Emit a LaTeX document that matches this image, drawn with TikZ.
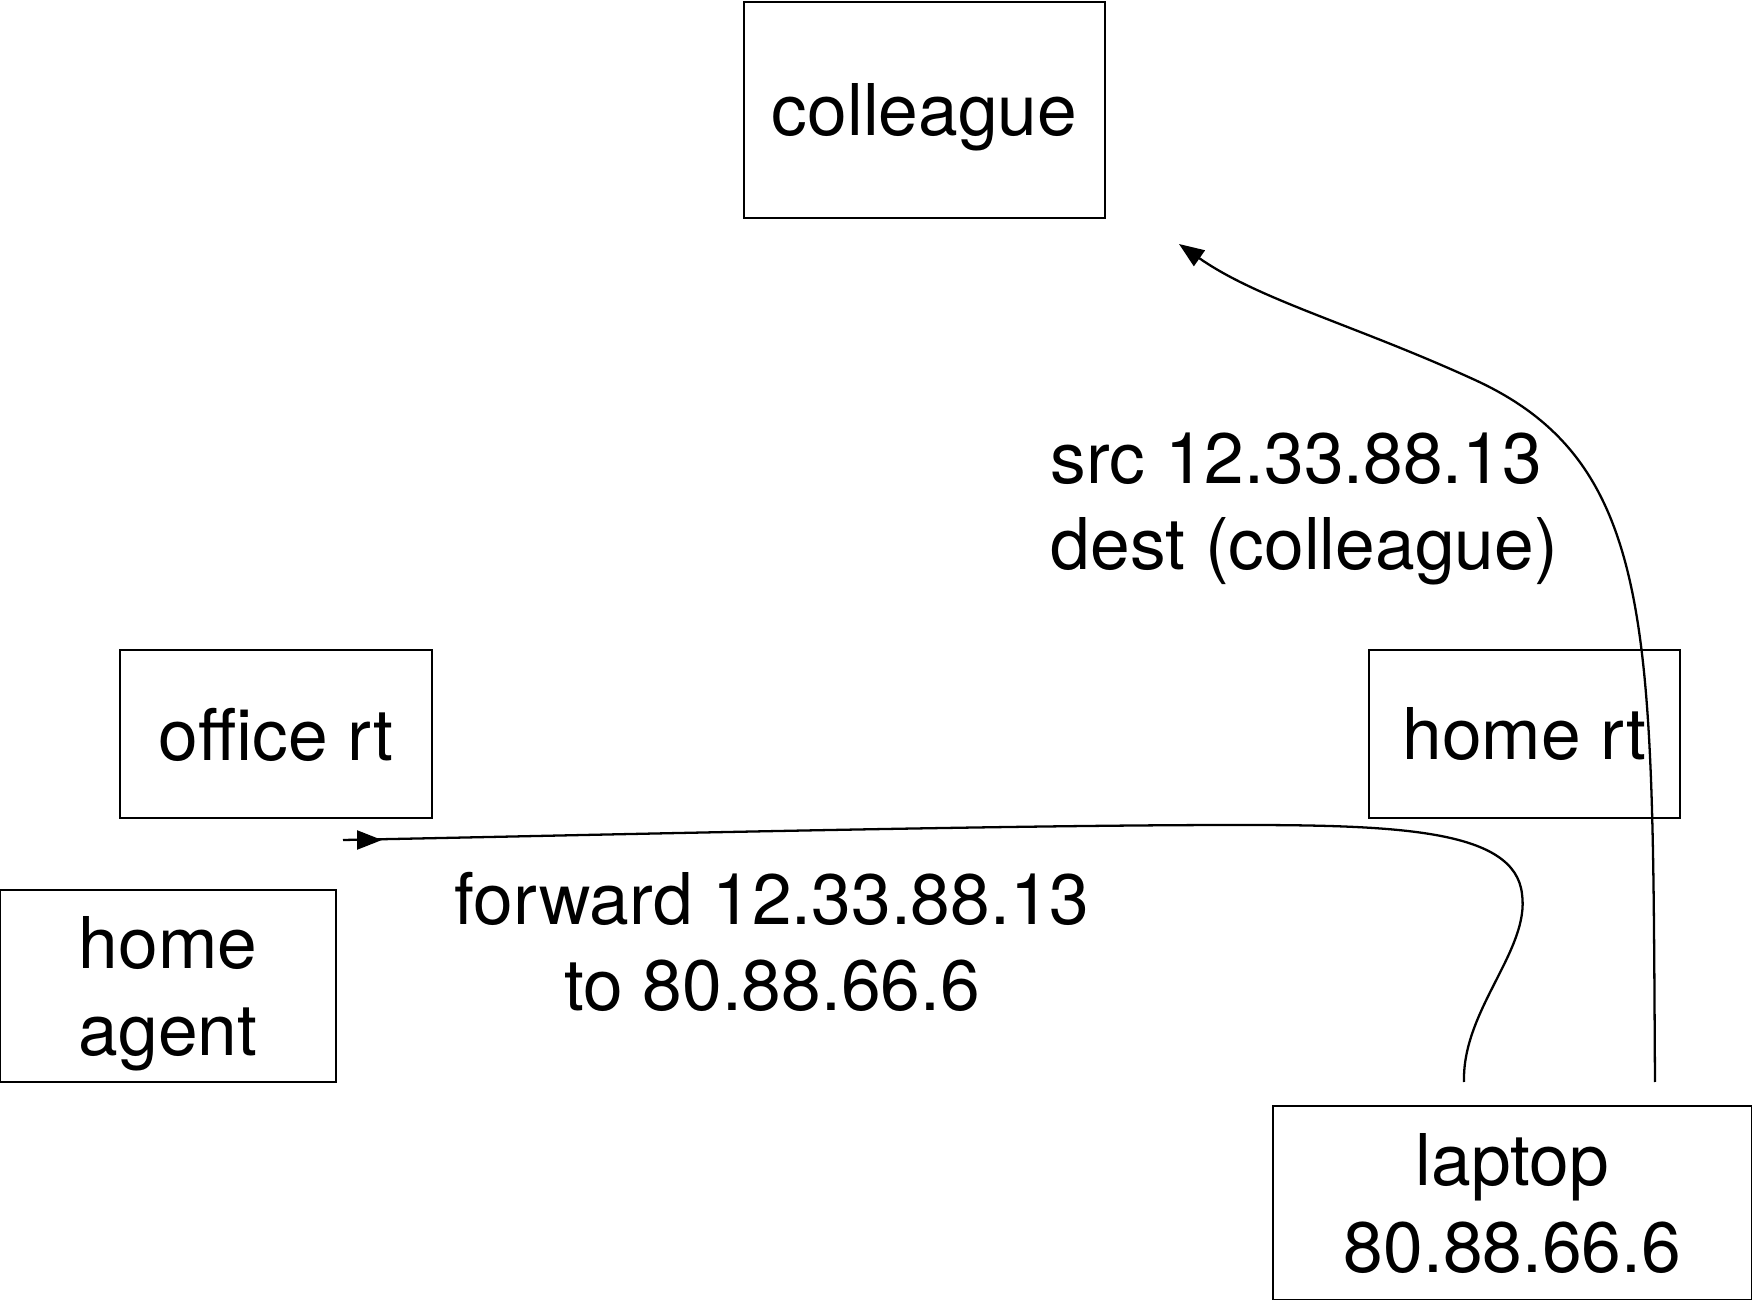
\documentclass[tikz,border=0pt]{standalone}
\usepackage{fontspec}
\setmainfont{TeX Gyre Heros}
\usetikzlibrary{arrows.meta}
\tikzset{
  box/.style={draw=black, line width=0.8pt, inner sep=0pt, align=center, text depth=0pt},
  lbl/.style={inner sep=0pt},
  wire/.style={draw=black, line width=0.65pt},
  tip/.style={-{Triangle[length=2.5mm,width=1.9mm]}}
}
\begin{document}
\begin{tikzpicture}[font=\fontsize{20.3}{24.5}\selectfont]
\useasboundingbox (0,0) rectangle (17.52,-13.0);

\node[box, minimum width=3.61cm, minimum height=2.16cm] (colleague) at (9.245,-1.10) {colleague};
\node[box, minimum width=3.12cm, minimum height=1.68cm] (office) at (2.76,-7.34) {office rt};
\node[box, minimum width=3.11cm, minimum height=1.68cm] (homert) at (15.245,-7.34) {home rt};
\node[box, minimum width=3.36cm, minimum height=1.92cm] (agent) at (1.68,-9.86) {home\\agent};
\node[box, minimum width=4.79cm, minimum height=1.94cm] (laptop) at (15.125,-12.03) {laptop\\80.88.66.6};

\coordinate (srcstart) at (16.55,-10.82);
\coordinate (srcend) at (11.79,-2.44);
\coordinate (fwdstart) at (14.64,-10.82);
\coordinate (fwdend) at (3.43,-8.40);
\coordinate (fwdtip) at (3.82,-8.40);

\draw[wire, tip] (srcstart) .. controls (16.52,-6.4) and (16.6,-4.65) .. (14.75,-3.8)
  .. controls (13.55,-3.25) and (12.59,-3.0) .. (srcend);
\draw[wire] (fwdstart) .. controls (14.62,-10.1) and (15.3,-9.5) .. (15.22,-8.94)
  .. controls (15.15,-8.3) and (14.0,-8.25) .. (12.4,-8.25)
  .. controls (10,-8.25) and (6,-8.35) .. (fwdend);
\draw[wire, tip] (fwdend) -- (fwdtip);

\node[lbl, anchor=base west, align=left] (src) at (10.50,-5.70) {src 12.33.88.13\\dest (colleague)};
\node[lbl, anchor=base, align=center] (fwd) at (7.72,-10.11) {forward 12.33.88.13\\to 80.88.66.6};
\end{tikzpicture}
\end{document}
